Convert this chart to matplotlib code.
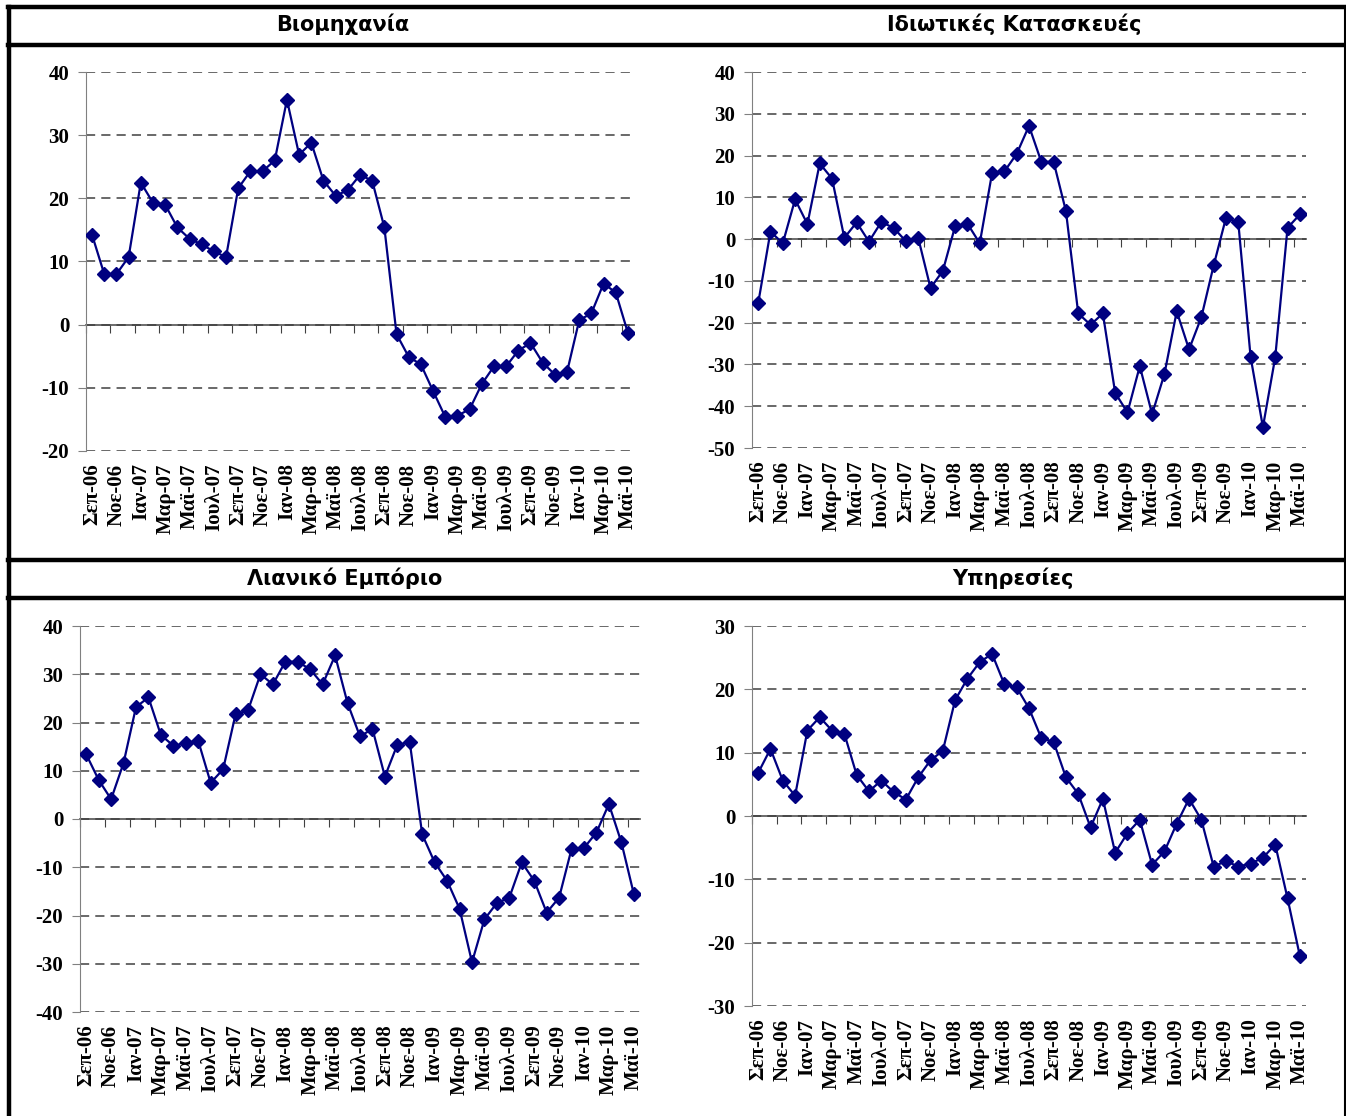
import numpy as np
import matplotlib.pyplot as plt
from matplotlib.lines import Line2D

plt.rcParams['axes.unicode_minus'] = False

# months Sep-06 .. May-10, only every second one is labelled
months = ['Σεπ-06', 'Οκτ-06', 'Νοε-06', 'Δεκ-06',
          'Ιαν-07', 'Φεβ-07', 'Μαρ-07', 'Απρ-07', 'Μαϊ-07', 'Ιουν-07',
          'Ιουλ-07', 'Αυγ-07', 'Σεπ-07', 'Οκτ-07', 'Νοε-07', 'Δεκ-07',
          'Ιαν-08', 'Φεβ-08', 'Μαρ-08', 'Απρ-08', 'Μαϊ-08', 'Ιουν-08',
          'Ιουλ-08', 'Αυγ-08', 'Σεπ-08', 'Οκτ-08', 'Νοε-08', 'Δεκ-08',
          'Ιαν-09', 'Φεβ-09', 'Μαρ-09', 'Απρ-09', 'Μαϊ-09', 'Ιουν-09',
          'Ιουλ-09', 'Αυγ-09', 'Σεπ-09', 'Οκτ-09', 'Νοε-09', 'Δεκ-09',
          'Ιαν-10', 'Φεβ-10', 'Μαρ-10', 'Απρ-10', 'Μαϊ-10']

industry = [14.2, 8.0, 8.0, 10.7, 22.5, 19.3, 19.0, 15.4, 13.6, 12.7,
            11.6, 10.7, 21.6, 24.3, 24.3, 26.0, 35.6, 26.9, 28.8, 22.8,
            20.4, 21.3, 23.7, 22.8, 15.4, -1.5, -5.1, -6.3, -10.5, -14.6,
            -14.4, -13.4, -9.4, -6.6, -6.6, -4.1, -2.9, -6.0, -7.9, -7.5,
            0.7, 1.8, 6.5, 5.1, -1.3]

construction = [-15.4, 1.8, -1.0, 9.5, 3.6, 18.1, 14.5, 0.3, 4.0, -0.6,
                4.1, 2.7, -0.5, 0.3, -11.7, -7.6, 3.1, 3.7, -1.0, 15.8,
                16.2, 20.4, 27.1, 18.5, 18.5, 6.7, -17.8, -20.5, -17.8, -36.8,
                -41.5, -30.4, -41.9, -32.3, -17.3, -26.4, -18.7, -6.3, 5.1, 4.0,
                -28.2, -45.0, -28.3, 2.7, 5.9]

retail = [13.4, 8.1, 4.1, 11.6, 23.2, 25.2, 17.4, 15.2, 15.7, 16.2,
          7.5, 10.3, 21.7, 22.5, 30.0, 27.9, 32.6, 32.6, 31.0, 27.9,
          33.9, 24.0, 17.1, 18.7, 8.8, 15.4, 15.9, -3.2, -9.0, -12.8,
          -18.6, -29.7, -20.8, -17.4, -16.3, -9.0, -12.8, -19.4, -16.3, -6.2,
          -6.0, -2.8, 3.1, -4.8, -15.5]

services = [6.8, 10.6, 5.6, 3.2, 13.5, 15.6, 13.5, 13.0, 6.5, 3.9,
            5.6, 3.8, 2.6, 6.1, 8.8, 10.3, 18.3, 21.7, 24.3, 25.6,
            20.8, 20.3, 17.0, 12.3, 11.7, 6.1, 3.5, -1.8, 2.7, -5.8,
            -2.7, -0.6, -7.7, -5.6, -1.2, 2.7, -0.6, -8.0, -7.1, -8.0,
            -7.5, -6.6, -4.5, -13.0, -22.1]

W, H = 1346, 1116
fig = plt.figure(figsize=(W / 100, H / 100), dpi=100)


def box(l, t, r, b):
    # pixel box -> figure fraction rect
    return [l / W, 1 - b / H, (r - l) / W, (b - t) / H]


panels = [
    ('Βιομηχανία', industry, (-20, 40), box(86, 72, 634, 451), 343),
    ('Ιδιωτικές Κατασκευές', construction, (-50, 40), box(752, 72, 1306, 448), 1014),
    ('Λιανικό Εμπόριο', retail, (-40, 40), box(80, 626, 640, 1012), 345),
    ('Υπηρεσίες', services, (-30, 30), box(752, 626, 1306, 1006), 1013),
]
title_y = [24, 24, 578, 578]

navy = '#000080'
axis_gray = '#808080'
serif = dict(family='Liberation Serif', weight='bold', size=15)

for i, (title, vals, (lo, hi), rect, tx) in enumerate(panels):
    ax = fig.add_axes(rect)
    x = np.arange(len(vals))
    ax.plot(x, vals, color=navy, lw=1.6, marker='D', ms=6.8, zorder=5)
    ax.set_xlim(-0.5, len(vals) - 0.5)
    ax.set_ylim(lo, hi)
    ax.set_yticks(np.arange(lo, hi + 1, 10))
    ax.set_xticks(x[::2])
    ax.set_xticklabels(months[::2], rotation=90, fontdict=serif)
    for lab in ax.get_yticklabels():
        lab.set_fontproperties(serif)
    ax.tick_params(axis='x', length=0, pad=9)
    ax.tick_params(axis='y', length=6, color=axis_gray, pad=6)
    for s in ['top', 'right', 'bottom']:
        ax.spines[s].set_visible(False)
    ax.spines['left'].set_color(axis_gray)
    ax.yaxis.grid(True, ls=(0, (6, 4)), color='#404040', lw=1.1)
    ax.set_axisbelow(True)

    # category axis sits on the zero line, ticks between every two months
    sec = ax.secondary_xaxis(-lo / (hi - lo))
    sec.set_alignment('bottom')
    sec.set_xticks(np.arange(-0.5, len(vals), 2))
    sec.tick_params(length=6, color='#404040', direction='out',
                    labelbottom=False, labeltop=False)
    sec.spines['bottom'].set_color('#606060')
    sec.spines['bottom'].set_linewidth(1.3)

    fig.text(tx / W, 1 - title_y[i] / H, title, ha='center', va='center',
             fontsize=15, fontweight='bold', family='DejaVu Sans')


def hline(y, x0=8, x1=1345, lw=3.2):
    fig.add_artist(Line2D([x0 / W, x1 / W], [1 - y / H, 1 - y / H],
                          transform=fig.transFigure, color='k', lw=lw))


def vline(x, y0=7, y1=1116, lw=3.2):
    fig.add_artist(Line2D([x / W, x / W], [1 - y0 / H, 1 - y1 / H],
                          transform=fig.transFigure, color='k', lw=lw))


# table frame around the four charts
hline(7)
hline(45)
hline(560)
hline(598)
vline(9)
vline(1345, lw=1.5)

fig.savefig('out.png', dpi=100)
